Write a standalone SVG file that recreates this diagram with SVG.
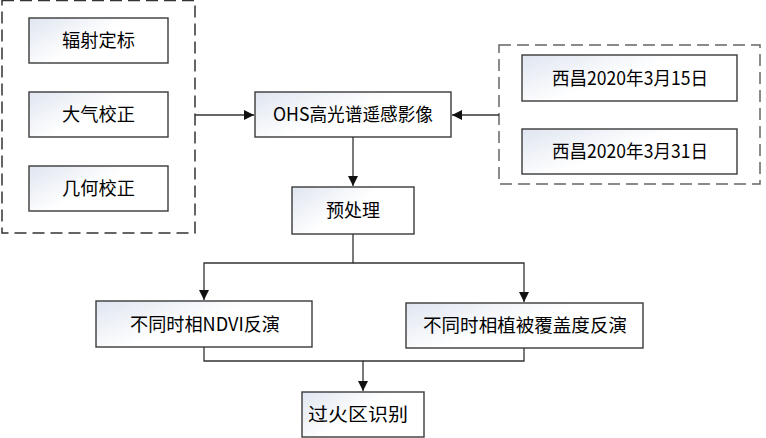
<svg xmlns="http://www.w3.org/2000/svg" width="766" height="438" viewBox="0 0 766 438">
<defs>
<linearGradient id="g" x1="0" y1="0" x2="1" y2="0.6">
<stop offset="0" stop-color="#dfe5f0"/>
<stop offset="0.55" stop-color="#ffffff"/>
<stop offset="1" stop-color="#ffffff"/>
</linearGradient>
<marker id="a" viewBox="0 0 10 10" refX="10" refY="5" markerWidth="10" markerHeight="10" markerUnits="userSpaceOnUse" orient="auto">
<path d="M0,0 L10,5 L0,10 Z" fill="#111"/>
</marker>
<style>
.b{fill:url(#g);stroke:#3a3a3a;stroke-width:1.4}
.d{fill:none;stroke-width:1.5;stroke-dasharray:12 6}
.t{font-family:"Noto Sans CJK SC","Liberation Sans",sans-serif;font-size:18.5px;fill:#000;text-anchor:middle}
.c{fill:none;stroke:#333;stroke-width:1.3}
</style>
</defs>
<rect width="766" height="438" fill="#fff"/>
<g id="group-left">
<rect class="d" x="2" y="0.5" width="193" height="232.5" stroke="#333"/>
</g>
<g id="group-right">
<rect class="d" x="499" y="45" width="261" height="139" stroke="#666"/>
</g>
<g id="n1"><rect class="b" x="29" y="18" width="139" height="45"/><text class="t" x="98.5" y="47" textLength="73" lengthAdjust="spacingAndGlyphs">辐射定标</text></g>
<g id="n2"><rect class="b" x="29" y="92" width="139" height="45"/><text class="t" x="98.5" y="121" textLength="73" lengthAdjust="spacingAndGlyphs">大气校正</text></g>
<g id="n3"><rect class="b" x="29" y="166" width="139" height="45"/><text class="t" x="98.5" y="195" textLength="73" lengthAdjust="spacingAndGlyphs">几何校正</text></g>
<g id="n4"><rect class="b" x="255" y="92" width="196" height="45"/><text class="t" x="353" y="121" textLength="160" lengthAdjust="spacingAndGlyphs">OHS高光谱遥感影像</text></g>
<g id="n5"><rect class="b" x="522" y="55" width="215" height="46"/><text class="t" x="630" y="84.5" textLength="156" lengthAdjust="spacingAndGlyphs">西昌2020年3月15日</text></g>
<g id="n6"><rect class="b" x="522" y="129" width="215" height="45"/><text class="t" x="630" y="158" textLength="156" lengthAdjust="spacingAndGlyphs">西昌2020年3月31日</text></g>
<g id="n7"><rect class="b" x="292" y="187" width="122" height="47"/><text class="t" x="353" y="217" textLength="54" lengthAdjust="spacingAndGlyphs">预处理</text></g>
<g id="n8"><rect class="b" x="96" y="301" width="216" height="46"/><text class="t" x="205" y="330.5" textLength="150" lengthAdjust="spacingAndGlyphs">不同时相NDVI反演</text></g>
<g id="n9"><rect class="b" x="406" y="303" width="237" height="45"/><text class="t" x="525" y="332" textLength="204" lengthAdjust="spacingAndGlyphs">不同时相植被覆盖度反演</text></g>
<g id="n10"><rect class="b" x="302" y="392" width="122" height="45"/><text class="t" x="358" y="421" textLength="100" lengthAdjust="spacingAndGlyphs">过火区识别</text></g>
<g id="connectors">
<path class="c" d="M195,115 H254" marker-end="url(#a)"/>
<path class="c" d="M499,115 H452" marker-end="url(#a)"/>
<path class="c" d="M353,137 V186" marker-end="url(#a)"/>
<path class="c" d="M353,234 V263 H204 V300" marker-end="url(#a)"/>
<path class="c" d="M353,263 H524 V302" marker-end="url(#a)"/>
<path class="c" d="M204,347 V361 H363 V391" marker-end="url(#a)"/>
<path class="c" d="M524,348 V361 H363"/>
</g>
</svg>
